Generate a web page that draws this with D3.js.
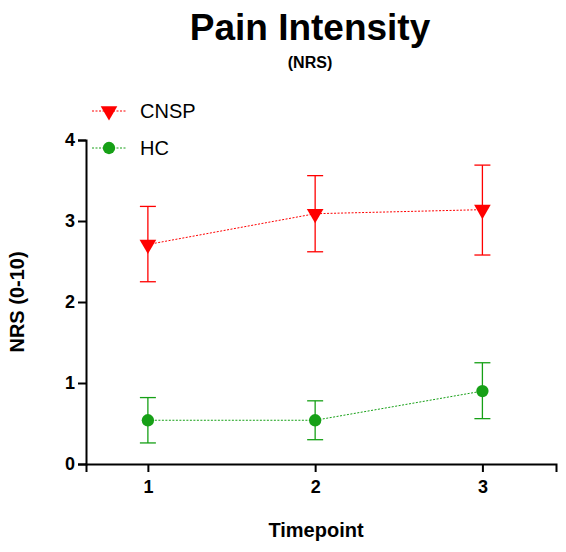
<!DOCTYPE html>
<html><head><meta charset="utf-8">
<script src="https://cdn.jsdelivr.net/npm/d3@7"></script>
<style>body{margin:0;background:#fff}text{font-family:Arial,"Liberation Sans",sans-serif}</style>
</head><body><svg id="c" width="566" height="552"></svg>
<script>
const timepoints = [1, 2, 3];
const cnspMean = [2.71, 3.09, 3.14];
const cnspLow = [2.25, 2.62, 2.58];
const cnspHigh = [3.18, 3.56, 3.69];
const hcMean = [0.54, 0.54, 0.90];
const hcLow = [0.26, 0.30, 0.56];
const hcHigh = [0.82, 0.78, 1.25];
const yTicks = [0, 1, 2, 3, 4];

const svg = d3.select("#c");
const x = d3.scaleLinear().domain([0.63, 3.44]).range([86, 556]);
const y = d3.scaleLinear().domain([0, 4]).range([464, 140]);

// axes
const xa = svg.append("g").attr("transform", "translate(0,464)")
  .call(d3.axisBottom(x).tickValues(timepoints).tickFormat(d3.format("d")).tickSizeOuter(0).tickSize(8));
const ya = svg.append("g").attr("transform", "translate(86,0)")
  .call(d3.axisLeft(y).tickValues(yTicks).tickFormat(d3.format("d")).tickSizeOuter(0).tickSize(8));
[xa, ya].forEach(a => {
  a.selectAll("path,line").attr("stroke", "#000").attr("stroke-width", 2);
  a.selectAll("text").attr("font-size", 18).attr("font-weight", "bold").attr("fill", "#000");
});
xa.selectAll("text").attr("dy", "1em");

const series = [
  {name: "CNSP", mean: cnspMean, low: cnspLow, high: cnspHigh, color: "#ff0000", sym: d3.symbolTriangle, rot: 180},
  {name: "HC", mean: hcMean, low: hcLow, high: hcHigh, color: "#16a016", sym: d3.symbolCircle, rot: 0}
];

series.forEach((s, si) => {
  const g = svg.append("g");
  const pts = timepoints.map((t, i) => ({t, m: s.mean[i], lo: s.low[i], hi: s.high[i]}));
  g.append("path").datum(pts)
    .attr("d", d3.line().x(d => x(d.t)).y(d => y(d.m)))
    .attr("fill", "none").attr("stroke", s.color).attr("stroke-width", 1).attr("stroke-dasharray", "2,1.5");
  pts.forEach(d => {
    g.append("line").attr("x1", x(d.t)).attr("x2", x(d.t)).attr("y1", y(d.lo)).attr("y2", y(d.hi))
      .attr("stroke", s.color).attr("stroke-width", 1.3);
    [d.lo, d.hi].forEach(v => g.append("line").attr("x1", x(d.t) - 8).attr("x2", x(d.t) + 8)
      .attr("y1", y(v)).attr("y2", y(v)).attr("stroke", s.color).attr("stroke-width", 1.3));
    g.append("path").attr("d", d3.symbol(s.sym, 120)())
      .attr("transform", `translate(${x(d.t)},${y(d.m)}) rotate(${s.rot})`).attr("fill", s.color);
  });
  // legend
  const ly = 111 + si * 37;
  svg.append("line").attr("x1", 92).attr("x2", 126).attr("y1", ly).attr("y2", ly)
    .attr("stroke", s.color).attr("stroke-width", 1).attr("stroke-dasharray", "2,1.5");
  svg.append("path").attr("d", d3.symbol(s.sym, 120)())
    .attr("transform", `translate(109,${ly}) rotate(${s.rot})`).attr("fill", s.color);
  svg.append("text").attr("x", 140).attr("y", ly + 7).attr("font-size", 20).text(s.name);
});

svg.append("text").attr("x", 310).attr("y", 40).attr("text-anchor", "middle")
  .attr("font-size", 37).attr("font-weight", "bold").text("Pain Intensity");
svg.append("text").attr("x", 310).attr("y", 68).attr("text-anchor", "middle")
  .attr("font-size", 16).attr("font-weight", "bold").text("(NRS)");
svg.append("text").attr("x", 316).attr("y", 537).attr("text-anchor", "middle")
  .attr("font-size", 20).attr("font-weight", "bold").text("Timepoint");
svg.append("text").attr("transform", "translate(24,302) rotate(-90)").attr("text-anchor", "middle")
  .attr("font-size", 20).attr("font-weight", "bold").text("NRS (0-10)");
</script></body></html>
